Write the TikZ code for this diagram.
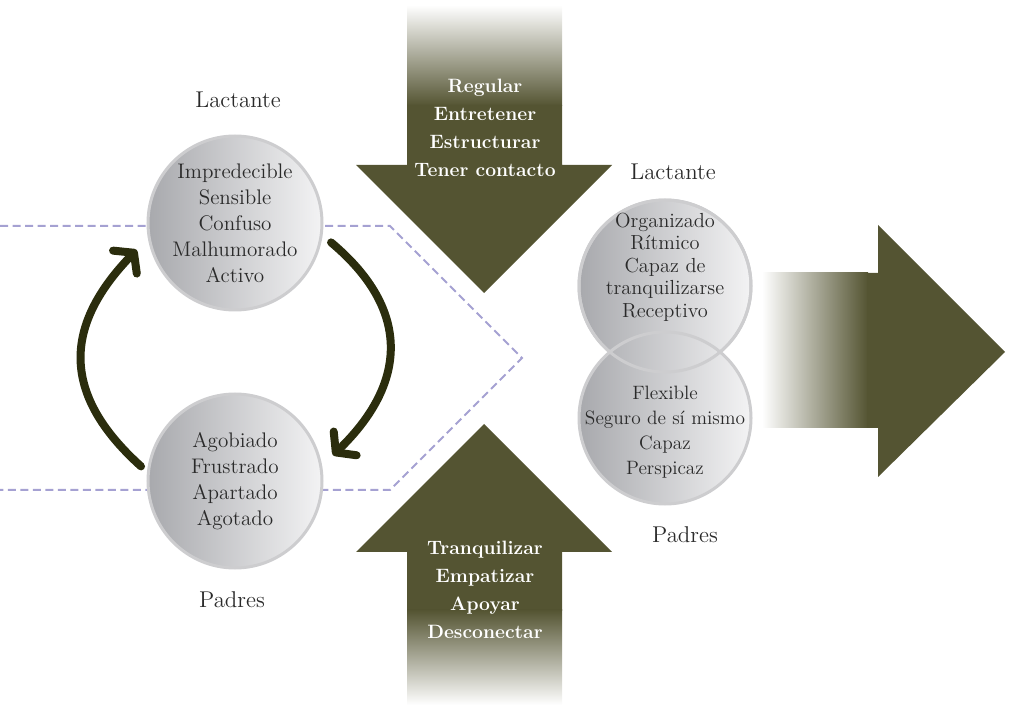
\documentclass[tikz,border=0pt]{standalone}
\usetikzlibrary{arrows.meta,calc}

\definecolor{arrowolive}{HTML}{545432}
\definecolor{loopdark}{HTML}{2B2D0D}
\definecolor{guidelilac}{HTML}{A5A1D2}
\definecolor{ringgray}{HTML}{CDCDCF}
\definecolor{diskdark}{HTML}{A8A9AD}
\definecolor{disklight}{HTML}{F3F3F4}
\definecolor{moodtext}{HTML}{2A2A2A}

\tikzset{
  mood/.style={circle, minimum size=34.8mm, inner sep=0pt, draw=ringgray, line width=0.6mm,
    left color=diskdark, right color=disklight, align=center, text=moodtext,
    font=\fontsize{12}{14.8}\selectfont},
  moodwords/.style={align=center, text=moodtext, font=\fontsize{11.6}{12.8}\selectfont},
  moodwordsloose/.style={align=center, text=moodtext, font=\fontsize{11}{14.2}\selectfont},
  who/.style={text=moodtext, font=\fontsize{13}{15}\selectfont},
  verbs/.style={align=center, text=white, font=\fontsize{11}{15.9}\selectfont\bfseries},
  turn/.style={loopdark, line width=1.6mm, line cap=round, looseness=1.3,
    -{Straight Barb[length=2.6mm,width=6.6mm,round]}},
  guide/.style={guidelilac, line width=0.4mm, dash pattern=on 1.6mm off 0.9mm}
}

\begin{document}
\begin{tikzpicture}[x=0.2mm, y=0.2mm]
\useasboundingbox (0,0) rectangle (1011,712);

% Dashed frame
\draw[guide] (0,486) -- (390,486) -- (522,354) -- (390,222) -- (0,222);

% Arrow from above
\shade[top color=white, bottom color=arrowolive] (407,707) rectangle (562,606);
\fill[arrowolive] (407,607) -- (407,547) -- (356,547) -- (484,419) -- (612,547) -- (562,547) -- (562,607) -- cycle;
\node[verbs] (calm) at (485,584) {Regular\\Entretener\\Estructurar\\Tener contacto};

% Arrow from below
\fill[arrowolive] (407,101) -- (407,160) -- (356,160) -- (484,288) -- (612,160) -- (562,160) -- (562,101) -- cycle;
\shade[top color=arrowolive, bottom color=white] (407,102) rectangle (562,7);
\node[verbs] (soothe) at (485,122) {Tranquilizar\\Empatizar\\Apoyar\\Desconectar};

% Arrow to the right
\shade[left color=white, right color=arrowolive] (762,284) rectangle (868,439);
\fill[arrowolive] (867,284) -- (878,284) -- (878,235) -- (1005,360) -- (878,487) -- (878,439) -- (867,439) -- cycle;

% Vicious circle
\node[mood] (baby) at (235,489) {Impredecible\\Sensible\\Confuso\\Malhumorado\\Activo};
\node[mood] (parent) at (235,231) {Agobiado\\Frustrado\\Apartado\\Agotado};
\node[who] (babylbl) at (238,612) {Lactante};
\node[who] (parentlbl) at (232,112) {Padres};
\draw[turn, shorten <=1.6mm, shorten >=3.2mm] (parent.174) to[out=138, in=226] (baby.190);
\draw[turn, shorten <=2.2mm, shorten >=3mm] (baby.-8) to[out=-40, in=44] (parent.10);

% Good fit
\node[mood, minimum size=34.4mm] (calmbaby) at (665,426) {};
\node[mood, minimum size=34.4mm] (calmparent) at (665,294) {};
\draw[ringgray, line width=0.6mm] (calmbaby) circle[radius=86];
\node[moodwords] (calmbabytxt) at ($(calmbaby)+(0,19)$) {Organizado\\Rítmico\\Capaz de\\tranquilizarse\\Receptivo};
\node[moodwordsloose] (calmparenttxt) at ($(calmparent)+(0,-14)$) {Flexible\\Seguro de sí mismo\\Capaz\\Perspicaz};
\node[who] (calmbabylbl) at (673,540) {Lactante};
\node[who] (calmparentlbl) at (685,177) {Padres};
\end{tikzpicture}
\end{document}
